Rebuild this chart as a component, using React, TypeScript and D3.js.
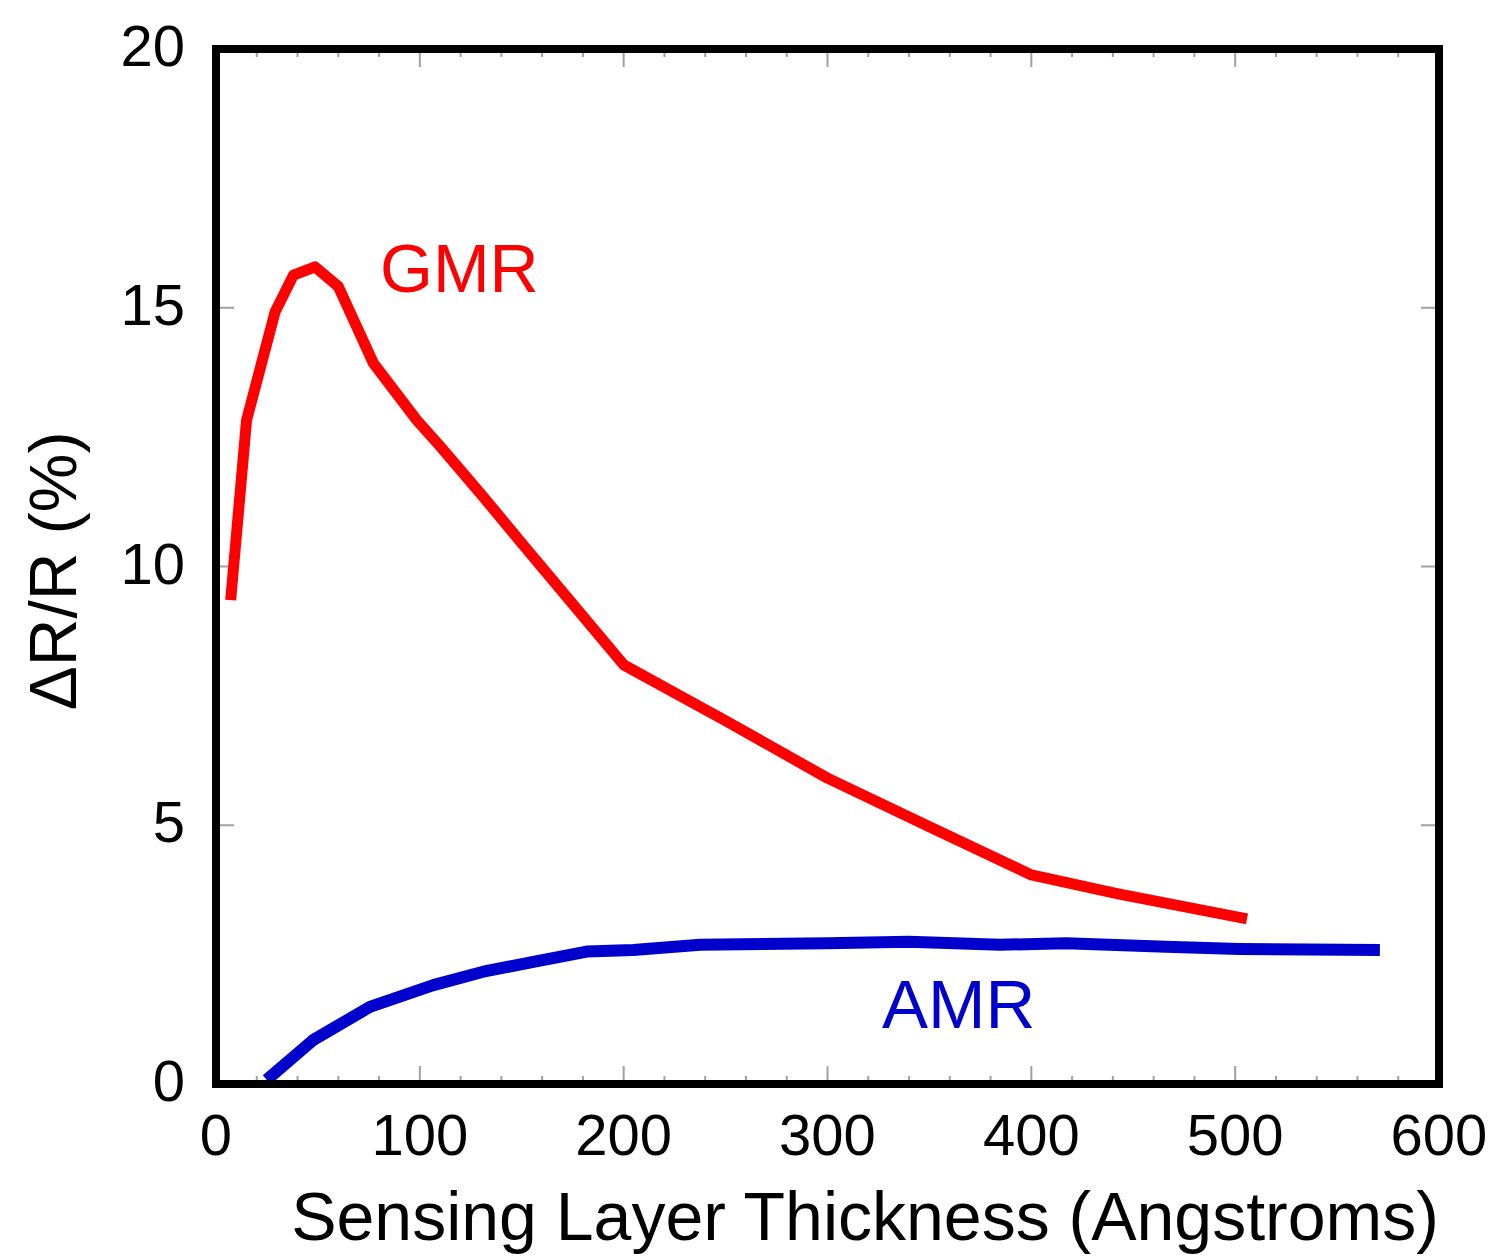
import React from "react";
import * as d3 from "d3";

const gmrX = [7.2, 15, 29, 38, 48.6, 60, 77.2, 98.5, 110, 130, 150, 200, 250, 300, 350, 400, 442, 505.8];
const gmrY = [9.35, 12.83, 14.92, 15.63, 15.79, 15.41, 13.93, 12.83, 12.32, 11.4, 10.45, 8.1, 7.02, 5.91, 4.97, 4.04, 3.68, 3.19];

const amrX = [24.9, 47.7, 75.5, 106.6, 131.1, 155.7, 181.9, 204.7, 237.5, 300, 340, 384.6, 417, 466, 502, 571];
const amrY = [0.08, 0.85, 1.49, 1.91, 2.17, 2.36, 2.56, 2.59, 2.69, 2.72, 2.75, 2.69, 2.72, 2.65, 2.61, 2.59];

const xTicks = [0, 100, 200, 300, 400, 500, 600];
const xMinor = d3.range(0, 601, 20);
const yTicks = [0, 5, 10, 15, 20];

const W = 1499;
const H = 1258;
const left = 216, right = 1439, top = 49, bottom = 1084;
const FONT = "'Liberation Sans', Arial, Helvetica, sans-serif";

export default function App() {
  const x = d3.scaleLinear().domain([0, 600]).range([left, right]);
  const y = d3.scaleLinear().domain([0, 20]).range([bottom, top]);
  const line = d3.line<[number, number]>().x(d => x(d[0])).y(d => y(d[1]));
  const gmr = gmrX.map((v, i) => [v, gmrY[i]] as [number, number]);
  const amr = amrX.map((v, i) => [v, amrY[i]] as [number, number]);
  const tickColor = "#a0a0a0";

  return (
    <svg width={W} height={H} style={{ position: "absolute", left: 0, top: 0, background: "#fff" }}>
      {xMinor.map(t => {
        const major = t % 100 === 0;
        const len = major ? 18 : 8;
        return (
          <g key={"xt" + t}>
            <line x1={x(t)} x2={x(t)} y1={bottom} y2={bottom - len} stroke={tickColor} strokeWidth={2} />
            <line x1={x(t)} x2={x(t)} y1={top} y2={top + len} stroke={tickColor} strokeWidth={2} />
          </g>
        );
      })}
      {yTicks.map(t => (
        <g key={"yt" + t}>
          <line x1={left} x2={left + 18} y1={y(t)} y2={y(t)} stroke={tickColor} strokeWidth={2} />
          <line x1={right} x2={right - 18} y1={y(t)} y2={y(t)} stroke={tickColor} strokeWidth={2} />
        </g>
      ))}

      <path d={line(gmr) || ""} fill="none" stroke="#ff0000" strokeWidth={11} strokeLinejoin="round" />
      <path d={line(amr) || ""} fill="none" stroke="#0000cc" strokeWidth={12} strokeLinejoin="round" />

      <rect x={left} y={top} width={right - left} height={bottom - top} fill="none" stroke="#000" strokeWidth={8} />

      {yTicks.map(t => (
        <text key={"yl" + t} x={185} y={y(t) + 17} textAnchor="end" fontFamily={FONT} fontSize={58} fill="#000">
          {t}
        </text>
      ))}
      {xTicks.map(t => (
        <text key={"xl" + t} x={x(t)} y={1155} textAnchor="middle" fontFamily={FONT} fontSize={58} fill="#000">
          {t}
        </text>
      ))}

      <text x={865} y={1240} textAnchor="middle" fontFamily={FONT} fontSize={68} fill="#000">
        Sensing Layer Thickness (Angstroms)
      </text>
      <text transform="translate(76,571) rotate(-90)" textAnchor="middle" fontFamily={FONT} fontSize={66} fill="#000">
        ΔR/R (%)
      </text>

      <text x={380} y={292} fontFamily={FONT} fontSize={68} fill="#ff0000">GMR</text>
      <text x={882} y={1028} fontFamily={FONT} fontSize={69} fill="#0000cc">AMR</text>
    </svg>
  );
}
